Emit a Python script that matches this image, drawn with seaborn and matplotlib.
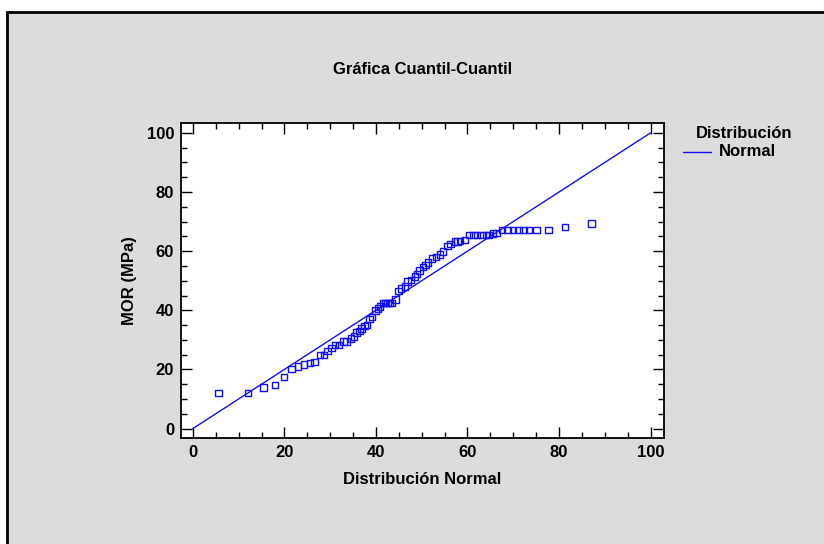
import matplotlib
matplotlib.use("Agg")
import matplotlib.pyplot as plt
from matplotlib.patches import Rectangle
from matplotlib.lines import Line2D
from matplotlib.ticker import MultipleLocator
import seaborn as sns
import pandas as pd

# Normal quantiles (x) against ordered MOR observations (y)
normal_quantiles = [
    5.6, 12.0, 15.4, 17.9, 19.9, 21.6, 23.0, 24.3, 25.6, 26.6,
    27.8, 28.7, 29.4, 30.3, 31.1, 31.9, 32.9, 33.6, 34.5, 35.2,
    35.8, 36.4, 36.9, 37.5, 38.0, 38.6, 39.1, 39.9, 40.4, 40.9,
    41.6, 42.1, 42.5, 43.0, 43.4, 44.3, 44.9, 45.5, 46.3, 46.9,
    47.7, 48.5, 49.0, 49.5, 50.3, 50.8, 51.4, 52.2, 53.1, 54.0,
    54.7, 55.6, 56.3, 57.3, 57.8, 58.4, 59.5, 60.3, 61.3, 62.1,
    63.1, 64.0, 64.7, 65.6, 66.4, 67.6, 68.8, 70.0, 71.1, 72.2,
    73.4, 75.1, 77.7, 81.3, 87.1,
]
mor_values = [
    12.1, 12.1, 13.9, 14.8, 17.4, 20.2, 21.0, 21.7, 22.1, 22.5,
    24.8, 24.8, 26.3, 27.3, 28.3, 28.3, 29.5, 29.5, 30.5, 31.1,
    32.4, 33.0, 33.8, 34.7, 35.0, 37.0, 37.8, 40.0, 40.6, 41.2,
    42.4, 42.4, 42.4, 42.4, 42.4, 43.7, 46.6, 47.4, 48.0, 49.7,
    50.2, 51.4, 52.3, 53.4, 54.7, 55.3, 56.1, 57.6, 58.1, 58.9,
    59.8, 61.7, 62.4, 63.2, 63.3, 63.5, 63.8, 65.5, 65.5, 65.5,
    65.5, 65.5, 65.5, 66.0, 66.2, 67.1, 67.1, 67.1, 67.1, 67.1,
    67.1, 67.1, 67.1, 68.1, 69.4,
]
# Reference line of the fitted normal distribution
ref_x = [0, 100]
ref_y = [0, 100]

title = "Gráfica Cuantil-Cuantil"
x_label = "Distribución Normal"
y_label = "MOR (MPa)"
legend_title = "Distribución"
legend_entry = "Normal"

sns.set_theme(style="white")
plt.rcParams["font.family"] = ["Liberation Sans", "DejaVu Sans"]
plt.rcParams["text.color"] = "black"
plt.rcParams["axes.labelcolor"] = "black"
plt.rcParams["xtick.color"] = "black"
plt.rcParams["ytick.color"] = "black"

W, H = 824, 544
FS = 12
fig = plt.figure(figsize=(W / 100, H / 100), dpi=100)
fig.patch.set_facecolor("white")

# grey panel with dark frame
fig.add_artist(Rectangle((7 / W, -0.1), 1.2, (H - 12) / H + 0.1,
                         transform=fig.transFigure, facecolor="#dcdcdc",
                         edgecolor="black", linewidth=2, zorder=-10))

ax = fig.add_axes([181 / W, (H - 438) / H, 483 / W, 315 / H])
ax.set_facecolor("white")

blue = "#1010ee"
pts = pd.DataFrame({"q": normal_quantiles, "mor": mor_values})
ref = pd.DataFrame({"q": ref_x, "mor": ref_y})

sns.lineplot(data=ref, x="q", y="mor", ax=ax, color=blue, linewidth=1.0)
sns.scatterplot(data=pts, x="q", y="mor", ax=ax, marker="s", s=22,
                facecolor="none", edgecolor=blue, linewidth=1.0, zorder=3)

ax.set_xlim(-2.6, 102.95)
ax.set_ylim(-3.2, 103.35)
ax.xaxis.set_major_locator(MultipleLocator(20))
ax.xaxis.set_minor_locator(MultipleLocator(5))
ax.yaxis.set_major_locator(MultipleLocator(20))
ax.yaxis.set_minor_locator(MultipleLocator(5))
ax.tick_params(which="both", direction="in", top=True, right=True,
               bottom=True, left=True, color="black", width=1)
ax.tick_params(which="major", length=8, labelsize=FS, pad=5)
ax.tick_params(which="minor", length=4)
for lab in ax.get_xticklabels() + ax.get_yticklabels():
    lab.set_fontweight("bold")
for sp in ax.spines.values():
    sp.set_visible(True)
    sp.set_color("black")
    sp.set_linewidth(1.3)

ax.set_xlabel(x_label, fontsize=FS, fontweight="bold", labelpad=9)
ax.set_ylabel(y_label, fontsize=FS, fontweight="bold", labelpad=7)
fig.text(422.5 / W, 1 - 70 / H, title, ha="center", va="center",
         fontsize=FS, fontweight="bold")

# legend
fig.text(744 / W, 1 - 133 / H, legend_title, ha="center", va="center",
         fontsize=FS, fontweight="bold")
fig.add_artist(Line2D([683 / W, 711 / W], [1 - 152 / H, 1 - 152 / H],
                      transform=fig.transFigure, color=blue, linewidth=1.0))
fig.text(719 / W, 1 - 152 / H, legend_entry, ha="left", va="center",
         fontsize=FS, fontweight="bold")

fig.savefig("out.png", dpi=100)
